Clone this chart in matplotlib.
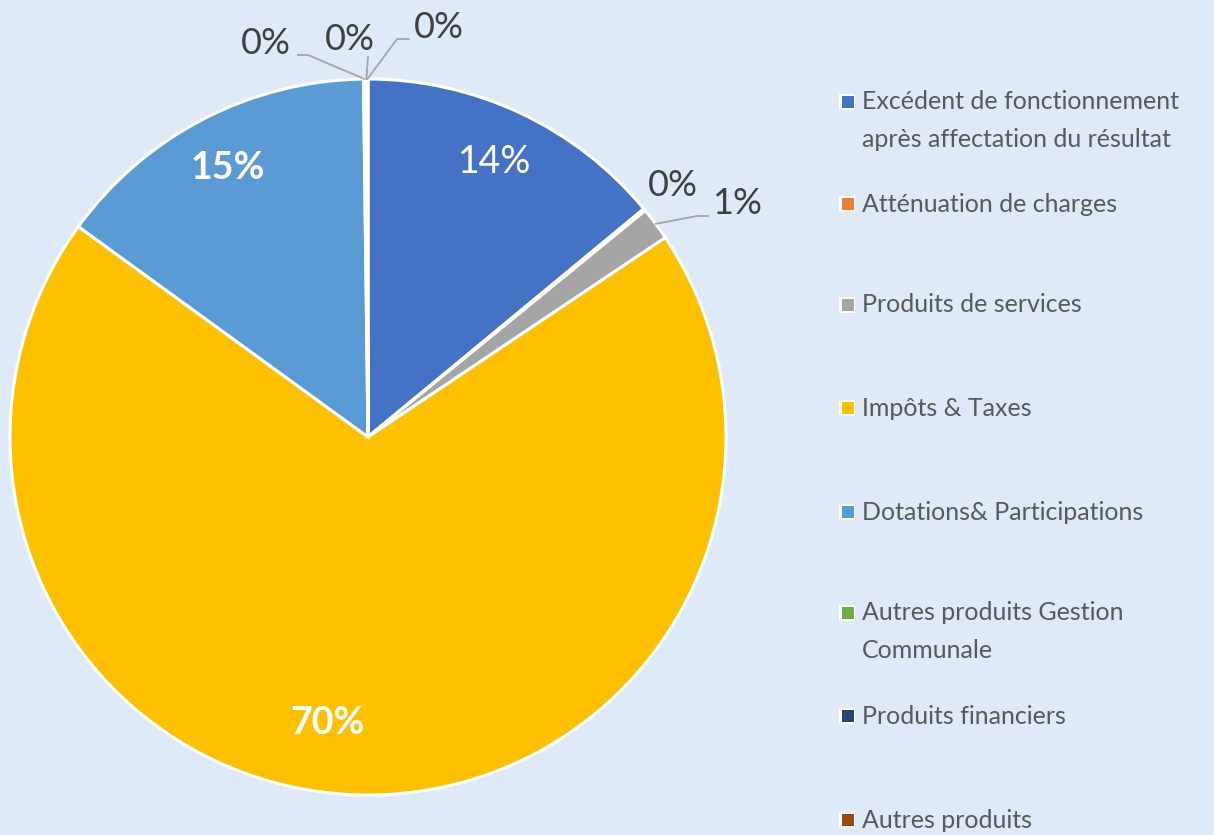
import matplotlib.pyplot as plt
from matplotlib.patches import Rectangle
import numpy as np

plt.rcParams['font.family'] = ['Lato', 'DejaVu Sans']

labels = ["Excédent de fonctionnement\naprès affectation du résultat",
          "Atténuation de charges",
          "Produits de services",
          "Impôts & Taxes",
          "Dotations& Participations",
          "Autres produits Gestion\nCommunale",
          "Produits financiers",
          "Autres produits"]
values = [14.0, 0.1, 1.5, 69.4, 14.8, 0.1, 0.05, 0.05]
pct_text = ["14%", "0%", "1%", "70%", "15%", "0%", "0%", "0%"]
colors = ["#4472C4", "#ED7D31", "#A5A5A5", "#FFC000",
          "#5B9BD5", "#70AD47", "#264478", "#9E480E"]
bg = "#DEEAF7"

W, H = 1214, 835
cx, cy, R = 368, 437, 358

fig = plt.figure(figsize=(W / 100, H / 100), dpi=100)
fig.patch.set_facecolor(bg)
ax = fig.add_axes([(cx - R) / W, (H - cy - R) / H, 2 * R / W, 2 * R / H])
ax.set_facecolor(bg)
ax.axis('off')

wedges, _ = ax.pie(values, colors=colors, startangle=90, counterclock=False,
                   radius=1, wedgeprops=dict(edgecolor='white', linewidth=2.2))
ax.set_xlim(-1, 1)
ax.set_ylim(-1, 1)

def px(x, y):
    return ((x - cx) / R, (cy - y) / R)

# label positions (pixel layout)
lab_pos = {0: (495, 162), 1: (673, 186), 2: (737, 203), 3: (327, 723),
           4: (228, 168), 5: (266, 44), 6: (350, 40), 7: (439, 28)}
bold = {3, 4}

for i, w in enumerate(wedges):
    x, y = px(*lab_pos[i])
    if i in (0, 3, 4):
        ax.text(x, y, pct_text[i], color='white', fontsize=27,
                fontweight='bold' if i in bold else 'normal',
                ha='center', va='center')
    else:
        ax.text(x, y, pct_text[i], color='#404040', fontsize=26,
                ha='center', va='center')

# leader lines: from wedge edge to elbow to label
leaders = {2: [(697, 216), (708, 216)],
           5: [(308, 55), (298, 55)],
           6: [(368, 57)],
           7: [(397, 39), (409, 39)]}
for i, pts in leaders.items():
    w = wedges[i]
    ang = np.deg2rad((w.theta1 + w.theta2) / 2)
    xs = [np.cos(ang)]
    ys = [np.sin(ang)]
    for p in pts:
        x, y = px(*p)
        xs.append(x)
        ys.append(y)
    ax.plot(xs, ys, color='#A6A6A6', lw=1.3, clip_on=False)

# legend
leg_x = 840
first_y = [102, 204, 305, 408, 512, 613, 716, 820]
for i, lab in enumerate(labels):
    y = first_y[i]
    fig.patches.append(Rectangle(((leg_x - 1) / W, (H - y - 8) / H), 16 / W, 16 / H,
                                 facecolor='white', edgecolor='none',
                                 transform=fig.transFigure))
    fig.patches.append(Rectangle((leg_x / W + 2 / W, (H - y - 6) / H), 12 / W, 12 / H,
                                 facecolor=colors[i], edgecolor='none',
                                 transform=fig.transFigure))
    if '\n' in lab:
        fig.text((leg_x + 22) / W, (H - y + 12) / H, lab, color='#595959',
                 fontsize=18, ha='left', va='top', linespacing=1.78)
    else:
        fig.text((leg_x + 22) / W, (H - y) / H, lab, color='#595959',
                 fontsize=18, ha='left', va='center')

fig.savefig('out.png', dpi=100, facecolor=bg)
